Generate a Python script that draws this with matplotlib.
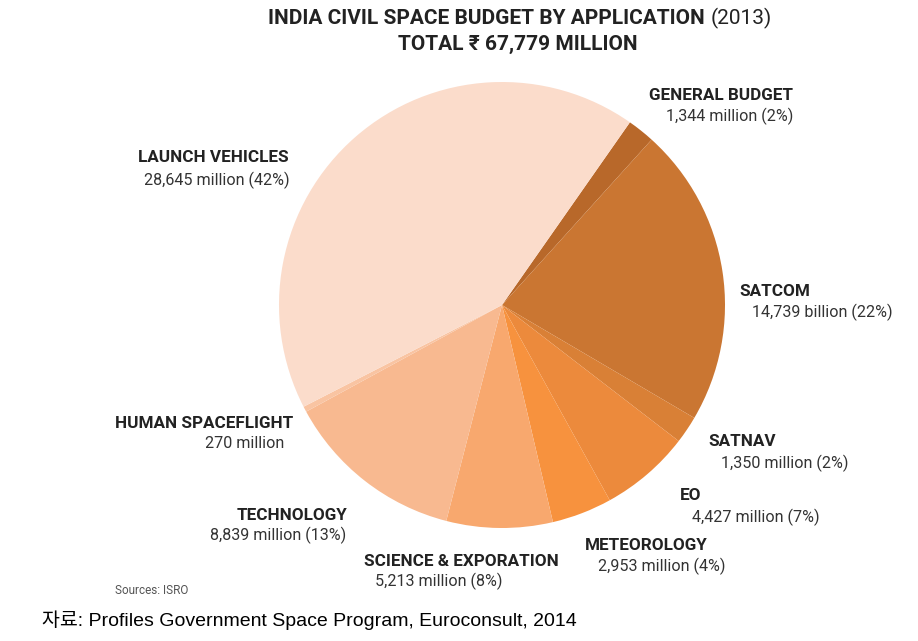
import matplotlib
matplotlib.use('Agg')
import matplotlib.pyplot as plt

# budget by application, million rupees (2013), clockwise from top right
names = ['GENERAL BUDGET', 'SATCOM', 'SATNAV', 'EO', 'METEOROLOGY',
         'SCIENCE & EXPORATION', 'TECHNOLOGY', 'HUMAN SPACEFLIGHT', 'LAUNCH VEHICLES']
values = [1344, 14739, 1350, 4427, 2953, 5213, 8839, 270, 28645]
sublabels = ['1,344 million (2%)', '14,739 billion (22%)', '1,350 million (2%)',
             '4,427 million (7%)', '2,953 million (4%)', '5,213 million (8%)',
             '8,839 million (13%)', '270 million', '28,645 million (42%)']
colors = ['#b8682a', '#ca7632', '#d98036', '#ec8a3c', '#f7923e',
          '#f8a86e', '#f8b990', '#f9c4a2', '#fbdccb']

W, H = 918, 641
fig = plt.figure(figsize=(W / 100, H / 100), dpi=100)
fig.patch.set_facecolor('white')

cx, cy, r = 502, 305, 223
ax = fig.add_axes([(cx - r) / W, (H - cy - r) / H, 2 * r / W, 2 * r / H])
ax.pie(values, colors=colors, startangle=55, counterclock=False,
       wedgeprops=dict(linewidth=0))
ax.set_xlim(-1, 1)
ax.set_ylim(-1, 1)
ax.set_aspect('equal')
ax.axis('off')

fam = ['Roboto', 'DejaVu Sans']


def t(x, y, s, bold=False, size=12, ha='left', color='#222222', family=fam):
    return fig.text(x / W, 1 - y / H, s, ha=ha, va='center', fontsize=size,
                    fontweight='bold' if bold else 'normal', color=color,
                    family=family)


# label positions (pixels): name line, value line
pos = {
    'GENERAL BUDGET': ((793, 96, 'right'), (793, 116, 'right')),
    'SATCOM': ((739, 292, 'left'), (752, 312, 'left')),
    'SATNAV': ((708, 442, 'left'), (721, 463, 'left')),
    'EO': ((680, 496, 'left'), (692, 517, 'left')),
    'METEOROLOGY': ((585, 546, 'left'), (598, 566, 'left')),
    'SCIENCE & EXPORATION': ((364, 562, 'left'), (375, 581, 'left')),
    'TECHNOLOGY': ((347, 515, 'right'), (346, 535, 'right')),
    'HUMAN SPACEFLIGHT': ((293, 423, 'right'), (284, 443, 'right')),
    'LAUNCH VEHICLES': ((289, 158, 'right'), (290, 180, 'right')),
}
for n, sub in zip(names, sublabels):
    (x1, y1, h1), (x2, y2, h2) = pos[n]
    t(x1, y1, n, bold=True, size=12.3, ha=h1)
    t(x2, y2, sub, size=11.6, ha=h2, color='#333333')

# title
fig.canvas.draw()
rend = fig.canvas.get_renderer()
t1 = t(0, 18, 'INDIA CIVIL SPACE BUDGET BY APPLICATION ', bold=True, size=15)
t2 = t(0, 18, '(2013)', size=15)
w1 = t1.get_window_extent(rend).width
w2 = t2.get_window_extent(rend).width
x0 = 520 - (w1 + w2) / 2
t1.set_x(x0 / W)
t2.set_x((x0 + w1) / W)
t(518, 44, 'TOTAL \u20b9 67,779 MILLION', bold=True, size=15, ha='center')

t(115, 591, 'Sources: ISRO', size=8.5, color='#555555')
t(42, 620, '자료: Profiles Government Space Program, Euroconsult, 2014', size=14,
  color='black', family=['Liberation Sans', 'Noto Sans CJK KR'])

fig.savefig('out.png', dpi=100)
